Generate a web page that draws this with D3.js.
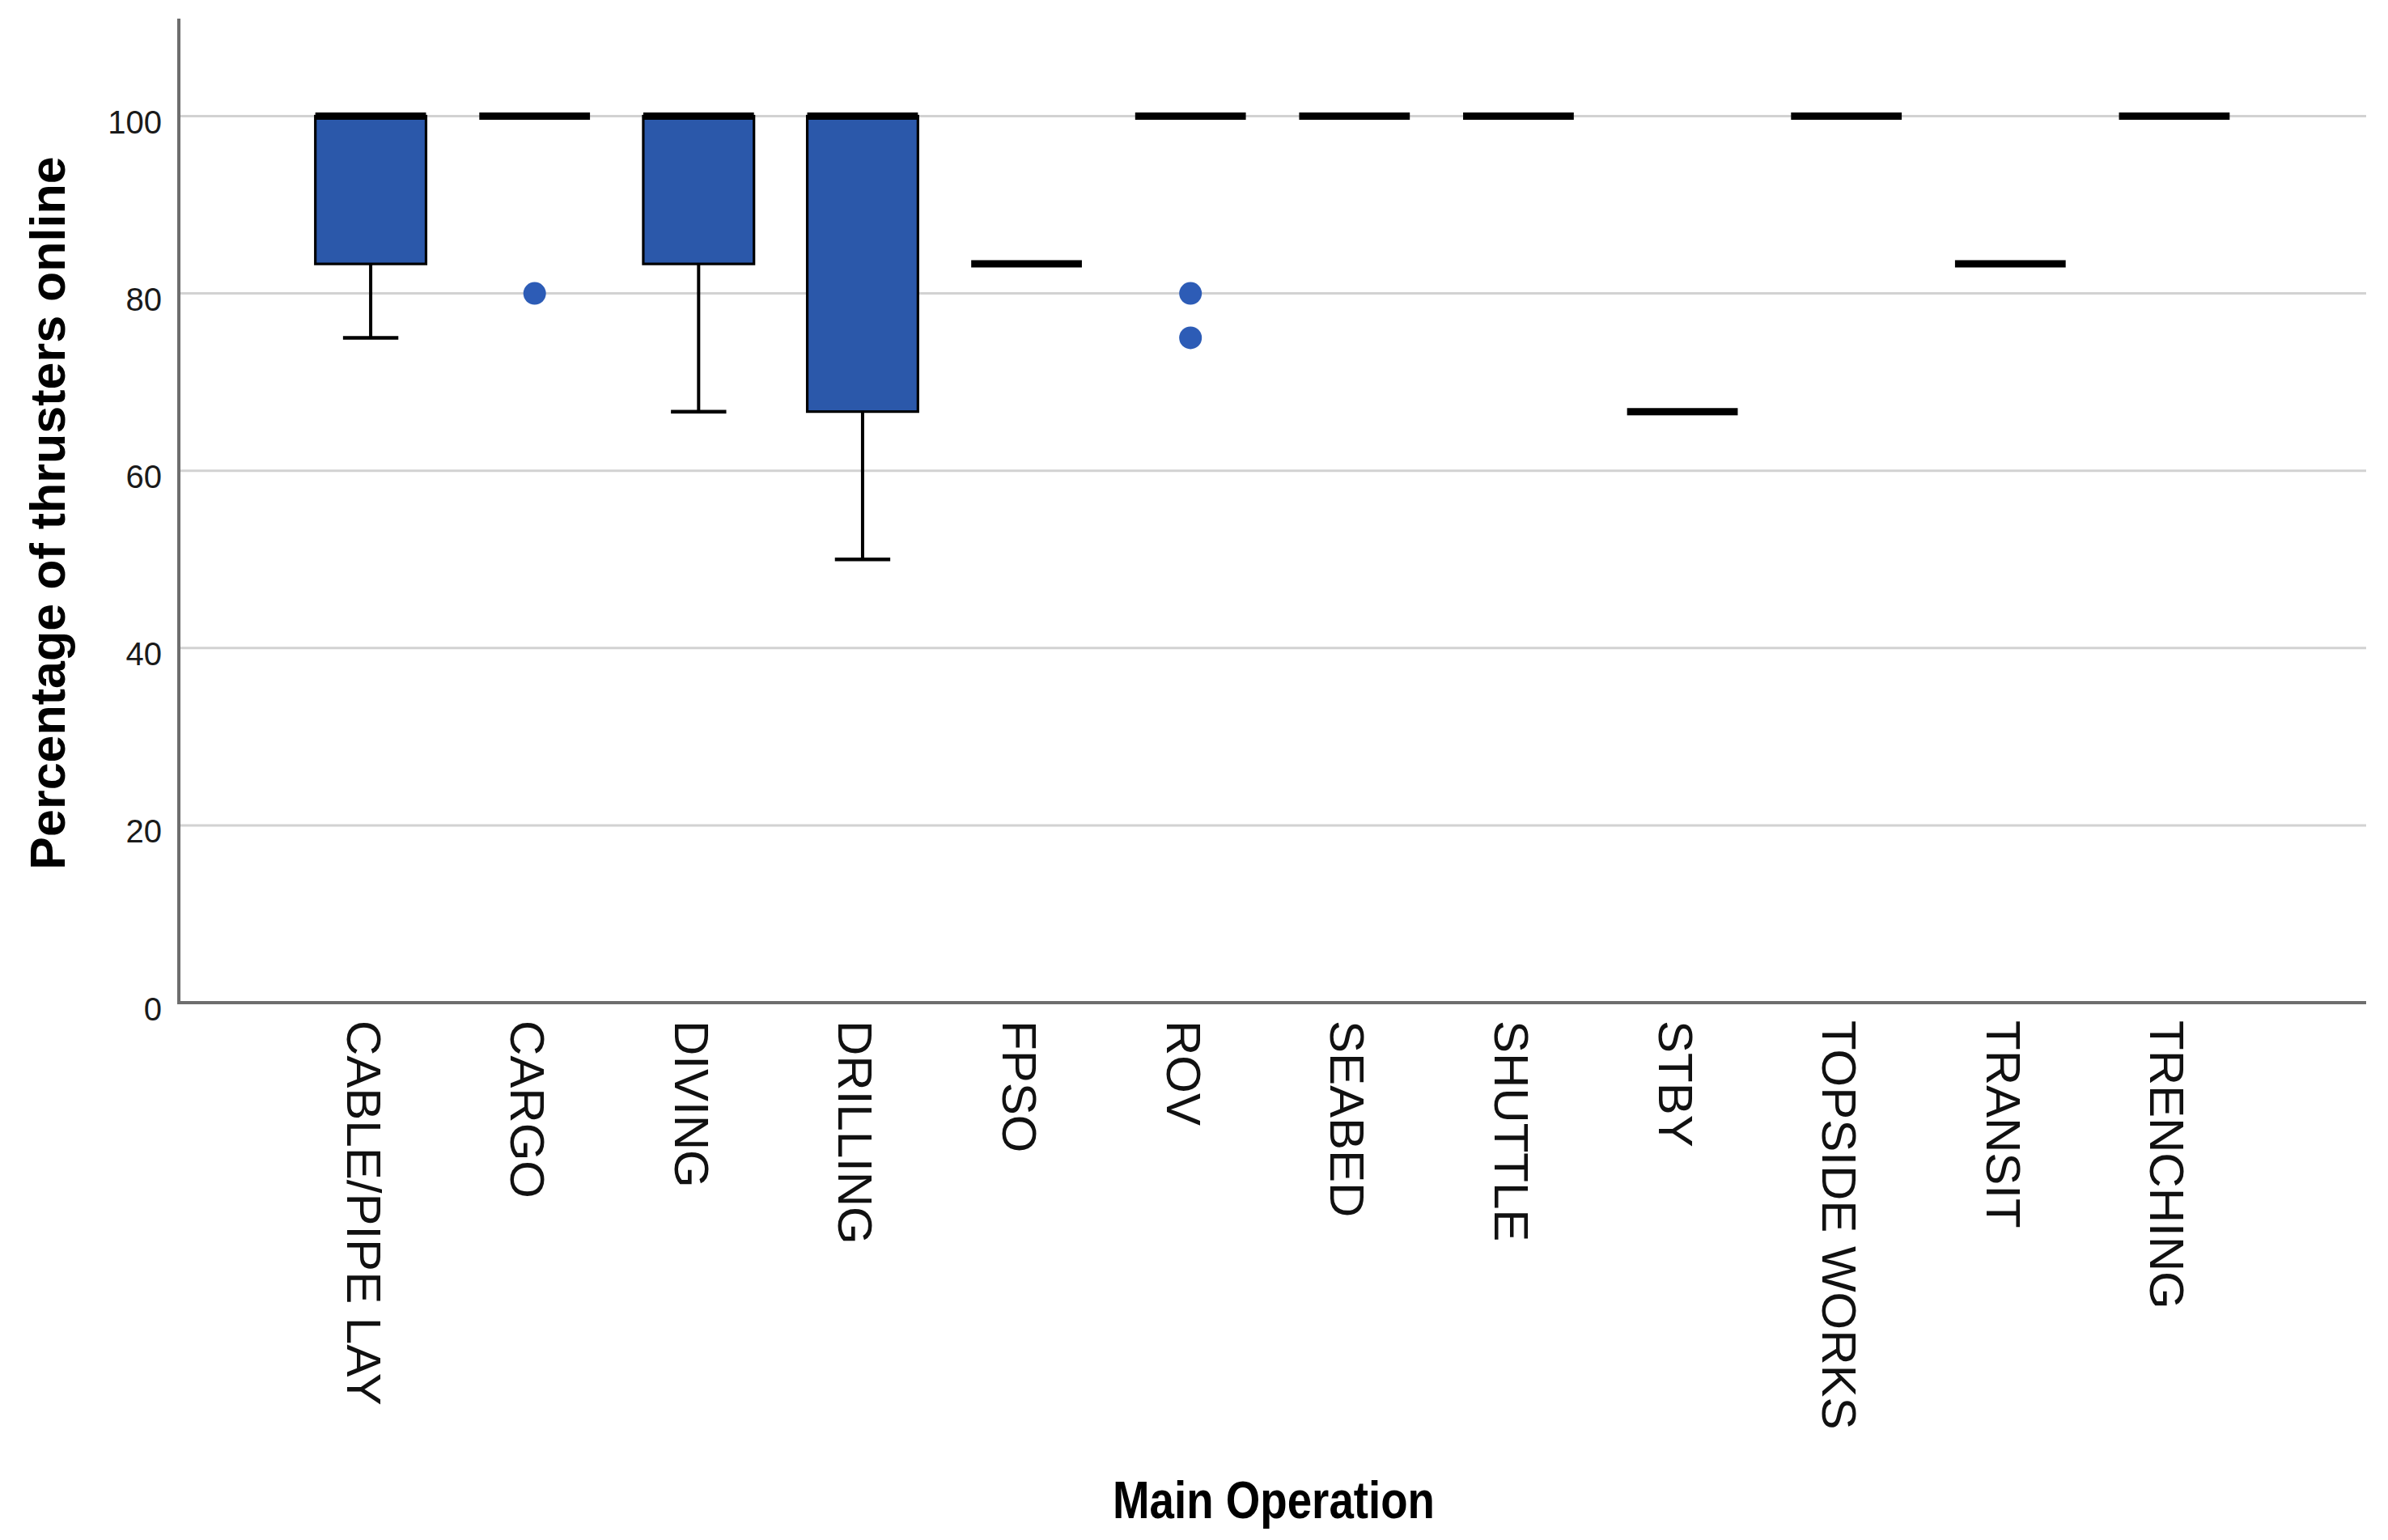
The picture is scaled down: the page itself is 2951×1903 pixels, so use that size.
<!DOCTYPE html>
<html>
<head>
<meta charset="utf-8">
<script src="https://cdn.jsdelivr.net/npm/d3@7"></script>
<style>
  html, body { margin: 0; padding: 0; background: #fff; }
  svg { display: block; }
</style>
</head>
<body>
<script>
// ---- Data ----
const categories = ["CABLE/PIPE LAY", "CARGO", "DIVING", "DRILLING", "FPSO", "ROV", "SEABED", "SHUTTLE", "STBY", "TOPSIDE WORKS", "TRANSIT", "TRENCHING"];
const whiskerLow = [75, 100, 66.67, 50, 83.33, 100, 100, 100, 66.67, 100, 83.33, 100];
const q1 =        [83.33, 100, 83.33, 66.67, 83.33, 100, 100, 100, 66.67, 100, 83.33, 100];
const median =    [100, 100, 100, 100, 83.33, 100, 100, 100, 66.67, 100, 83.33, 100];
const q3 =        [100, 100, 100, 100, 83.33, 100, 100, 100, 66.67, 100, 83.33, 100];
const whiskerHigh = [100, 100, 100, 100, 83.33, 100, 100, 100, 66.67, 100, 83.33, 100];
const outlierCats = ["CARGO", "ROV", "ROV"];
const outlierVals = [80, 80, 75];
const yTicks = [0, 20, 40, 60, 80, 100];
const yTitle = "Percentage of thrusters online";
const xTitle = "Main Operation";

// ---- Layout ----
const W = 2951, H = 1903;
const plotLeft = 221, plotRight = 2924, plotTop = 23, plotBottom = 1239;

const svg = d3.select("body").append("svg").attr("width", W).attr("height", H);

const x = d3.scalePoint().domain(categories).range([plotLeft, plotRight]).padding(1.17);
const y = d3.scaleLinear().domain([0, 111]).range([plotBottom, plotTop]);
const step = x.step();
const boxW = step * 0.675;
const capW = boxW * 0.5;

// gridlines
svg.append("g").selectAll("line").data(yTicks.filter(d => d > 0)).join("line")
  .attr("x1", plotLeft).attr("x2", plotRight)
  .attr("y1", d => y(d)).attr("y2", d => y(d))
  .attr("stroke", "#d2d2d2").attr("stroke-width", 3);

// y axis (via d3 axis, styled)
const yAxis = svg.append("g").attr("transform", `translate(${plotLeft},0)`)
  .call(d3.axisLeft(y).tickValues(yTicks).tickSize(0).tickPadding(21));
yAxis.select(".domain").remove();
yAxis.selectAll("text")
  .attr("font-family", "'Liberation Sans', Arial, sans-serif")
  .attr("font-size", 40).attr("fill", "#1a1a1a")
  .attr("dy", 21);

// axis lines
svg.append("line").attr("x1", plotLeft).attr("x2", plotLeft).attr("y1", plotTop).attr("y2", plotBottom)
  .attr("stroke", "#6e6e6e").attr("stroke-width", 4);
svg.append("line").attr("x1", plotLeft - 2).attr("x2", plotRight).attr("y1", plotBottom).attr("y2", plotBottom)
  .attr("stroke", "#6e6e6e").attr("stroke-width", 4);

// x category labels
const xAxis = svg.append("g").attr("transform", `translate(0,${plotBottom})`)
  .call(d3.axisBottom(x).tickSize(0).tickPadding(0));
xAxis.select(".domain").remove();
xAxis.selectAll("text")
  .attr("font-family", "'Liberation Sans', Arial, sans-serif")
  .attr("font-size", 60).attr("fill", "#111")
  .attr("text-anchor", "start")
  .attr("dy", 0).attr("y", 0)
  .attr("transform", "translate(-30,22) rotate(90)");

const idx = categories.map((c, i) => i);

// whiskers
const wg = svg.append("g");
wg.selectAll("line.stem").data(idx.filter(i => whiskerLow[i] < q1[i])).join("line")
  .attr("class", "stem")
  .attr("x1", i => x(categories[i])).attr("x2", i => x(categories[i]))
  .attr("y1", i => y(q1[i])).attr("y2", i => y(whiskerLow[i]))
  .attr("stroke", "#000").attr("stroke-width", 4);
wg.selectAll("line.cap").data(idx.filter(i => whiskerLow[i] < q1[i])).join("line")
  .attr("class", "cap")
  .attr("x1", i => x(categories[i]) - capW / 2).attr("x2", i => x(categories[i]) + capW / 2)
  .attr("y1", i => y(whiskerLow[i])).attr("y2", i => y(whiskerLow[i]))
  .attr("stroke", "#000").attr("stroke-width", 4.5);

// boxes
svg.append("g").selectAll("rect").data(idx.filter(i => q1[i] < q3[i])).join("rect")
  .attr("x", i => x(categories[i]) - boxW / 2)
  .attr("width", boxW)
  .attr("y", i => y(q3[i]))
  .attr("height", i => y(q1[i]) - y(q3[i]))
  .attr("fill", "#2b58aa").attr("stroke", "#000").attr("stroke-width", 3.2);

// medians
svg.append("g").selectAll("line").data(idx).join("line")
  .attr("x1", i => x(categories[i]) - boxW / 2).attr("x2", i => x(categories[i]) + boxW / 2)
  .attr("y1", i => y(median[i])).attr("y2", i => y(median[i]))
  .attr("stroke", "#000").attr("stroke-width", 9);

// outliers
svg.append("g").selectAll("circle").data(outlierVals.map((v, i) => i)).join("circle")
  .attr("cx", i => x(outlierCats[i]))
  .attr("cy", i => y(outlierVals[i]))
  .attr("r", 14)
  .attr("fill", "#2d5cb6");

// titles
svg.append("text")
  .attr("transform", `translate(80,634) rotate(-90)`)
  .attr("text-anchor", "middle")
  .attr("font-family", "'Liberation Sans', Arial, sans-serif")
  .attr("font-weight", "bold").attr("font-size", 61).attr("fill", "#000")
  .text(yTitle);

svg.append("text")
  .attr("x", 1375).attr("y", 1876)
  .attr("text-anchor", "start")
  .attr("textLength", 398).attr("lengthAdjust", "spacingAndGlyphs")
  .attr("font-family", "'Liberation Sans', Arial, sans-serif")
  .attr("font-weight", "bold").attr("font-size", 64).attr("fill", "#000")
  .text(xTitle);
</script>
</body>
</html>
